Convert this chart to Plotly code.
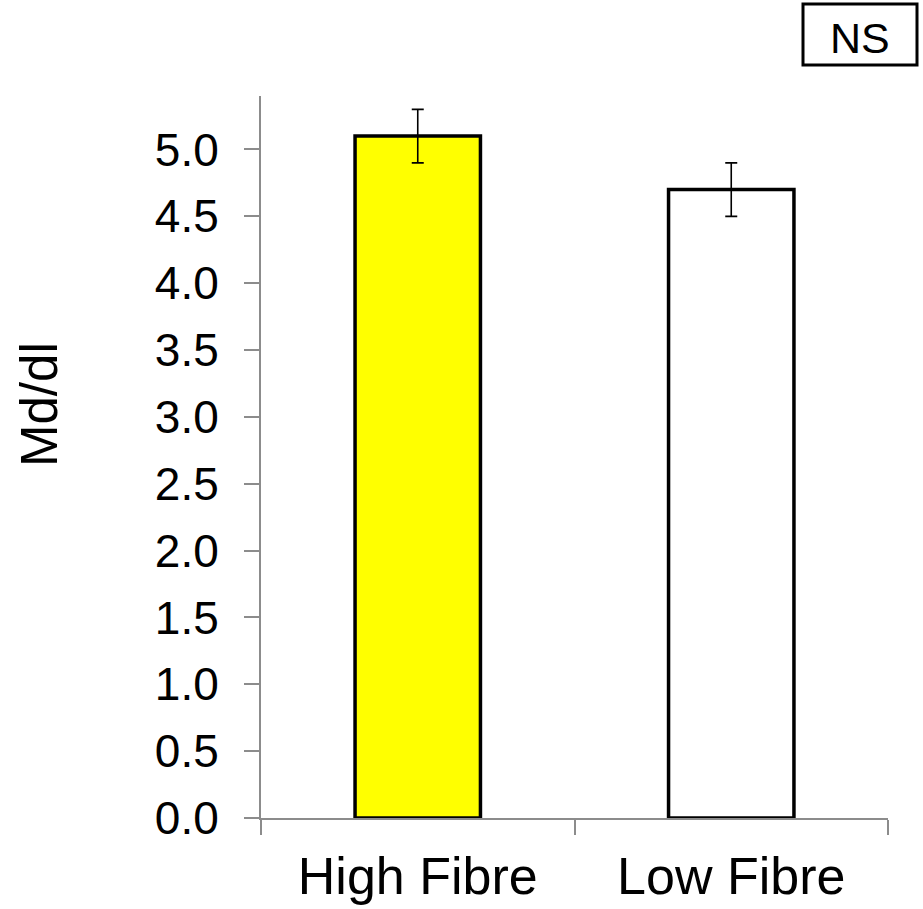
import plotly.graph_objects as go

categories = ["High Fibre", "Low Fibre"]
values = [5.1, 4.7]
errors = [0.2, 0.2]
colors = ["#FFFF00", "#FFFFFF"]
y_ticks = [0.0, 0.5, 1.0, 1.5, 2.0, 2.5, 3.0, 3.5, 4.0, 4.5, 5.0]
y_ticktext = [f"{v:.1f}" for v in y_ticks]
y_title = "Md/dl"
sig_label = "NS"

FONT = "Arial, Liberation Sans, sans-serif"
AXIS = "#8c8c8c"

fig = go.Figure()
fig.add_trace(go.Bar(
    x=categories, y=values, width=0.4,
    marker=dict(color=colors, line=dict(color="black", width=3.5)),
    error_y=dict(type="data", array=errors, visible=True, color="black",
                 thickness=1.6, width=6),
    showlegend=False,
))

fig.update_layout(
    width=923, height=909,
    margin=dict(l=261, r=35, t=96, b=91),
    paper_bgcolor="white", plot_bgcolor="white",
    font=dict(family=FONT, color="black"),
    bargap=0.6,
    xaxis=dict(
        showline=True, linecolor=AXIS, linewidth=2,
        ticks="outside", tickson="boundaries", ticklen=15, tickwidth=2, tickcolor=AXIS,
        tickfont=dict(size=52, family=FONT, color="black"),
        showgrid=False, zeroline=False, ticklabelstandoff=12, automargin=False,
    ),
    yaxis=dict(
        range=[0, 5.4],
        tickvals=y_ticks, ticktext=y_ticktext,
        showline=True, linecolor=AXIS, linewidth=2,
        ticks="outside", ticklen=15, tickwidth=2, tickcolor=AXIS,
        tickfont=dict(size=46, family=FONT, color="black"),
        showgrid=False, zeroline=False, ticklabelstandoff=16, automargin=False,
    ),
)

fig.add_annotation(
    text=y_title, textangle=-90, showarrow=False,
    xref="paper", yref="paper", x=(39 - 261) / 627, y=(818 - 405) / 722,
    xanchor="center", yanchor="middle",
    font=dict(size=51, family=FONT, color="black"),
)

fig.add_shape(
    type="rect", xref="paper", yref="paper",
    x0=(803 - 261) / 627, x1=(917 - 261) / 627,
    y0=(818 - 65) / 722, y1=(818 - 4) / 722,
    line=dict(color="black", width=3), fillcolor="white",
)
fig.add_annotation(
    text=sig_label, showarrow=False,
    xref="paper", yref="paper", x=(860 - 261) / 627, y=(818 - 38) / 722,
    xanchor="center", yanchor="middle",
    font=dict(size=43, family=FONT, color="black"),
)

fig.write_html("out.html")
